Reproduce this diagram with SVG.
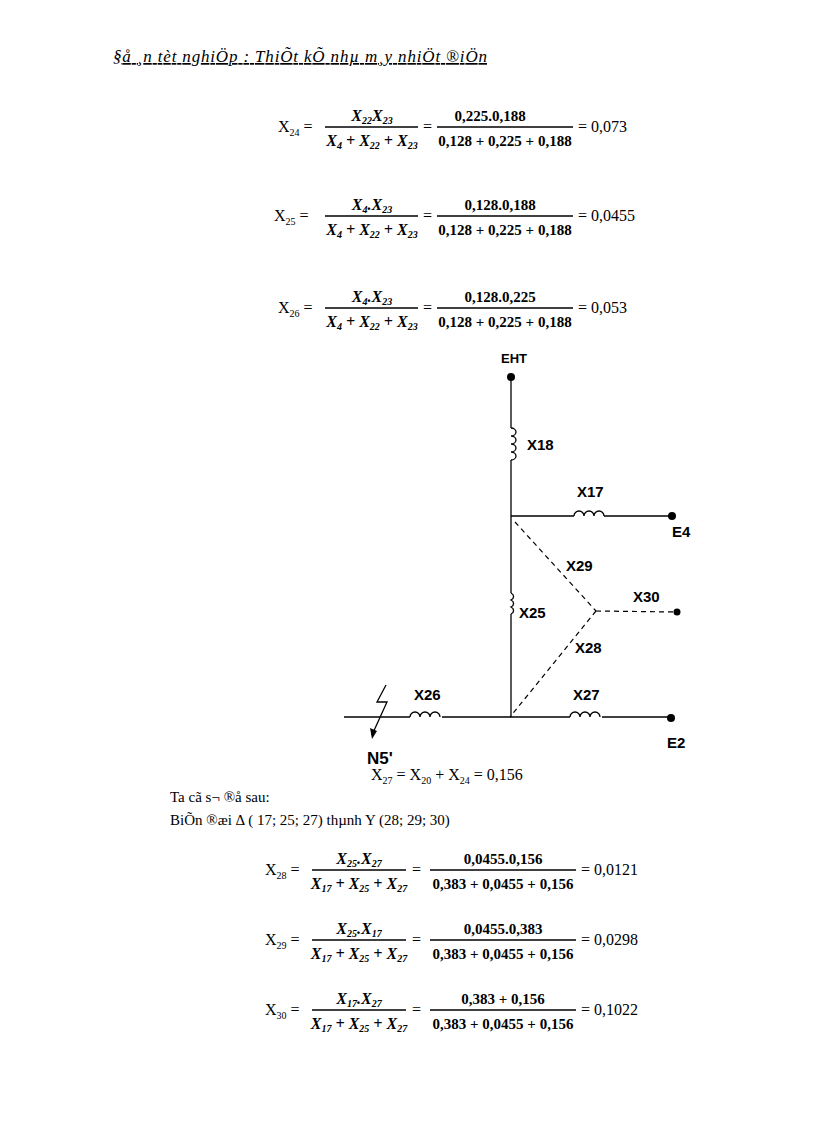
<svg xmlns="http://www.w3.org/2000/svg" width="816" height="1123" viewBox="0 0 816 1123">
<style>
.t{font-family:"Liberation Serif",serif;font-size:16px;fill:#000}
.b{font-family:"Liberation Serif",serif;font-size:16px;font-weight:bold;font-style:italic;fill:#000}
.n{font-family:"Liberation Serif",serif;font-size:15px;font-weight:bold;fill:#000}
.l{font-family:"Liberation Sans",sans-serif;font-size:15px;font-weight:bold;fill:#000}
.s{font-size:10px}
.w{stroke:#000;stroke-width:1.3;fill:none}
.d{stroke:#000;stroke-width:1.2;fill:none;stroke-dasharray:5,4}
</style>
<rect width="816" height="1123" fill="#fff"/>
<text x="113" y="62" class="t" style="font-style:italic;text-decoration:underline;font-size:17px" textLength="374">§å ¸n tèt nghiÖp : ThiÕt kÕ  nhµ m¸y nhiÖt ®iÖn</text>

<g id="f24">
<text x="278" y="132" class="t">X<tspan class="s" dy="4">24</tspan><tspan dy="-4"> =</tspan></text>
<text x="372" y="121" class="b" text-anchor="middle">X<tspan class="s" dy="3">22</tspan><tspan dy="-3">X</tspan><tspan class="s" dy="3">23</tspan></text>
<line x1="325" y1="127" x2="418" y2="127" class="w"/>
<text x="372" y="146" class="b" text-anchor="middle">X<tspan class="s" dy="3">4</tspan><tspan dy="-3"> + X</tspan><tspan class="s" dy="3">22</tspan><tspan dy="-3"> + X</tspan><tspan class="s" dy="3">23</tspan></text>
<text x="423" y="132" class="t">=</text>
<text x="490" y="121" class="n" text-anchor="middle">0,225.0,188</text>
<line x1="437" y1="127" x2="573" y2="127" class="w"/>
<text x="505" y="146" class="n" text-anchor="middle">0,128 + 0,225 + 0,188</text>
<text x="578" y="132" class="t">= 0,073</text>
</g>

<g id="f25">
<text x="274" y="221" class="t">X<tspan class="s" dy="4">25</tspan><tspan dy="-4"> =</tspan></text>
<text x="372" y="210" class="b" text-anchor="middle">X<tspan class="s" dy="3">4</tspan><tspan dy="-3">.X</tspan><tspan class="s" dy="3">23</tspan></text>
<line x1="325" y1="216" x2="418" y2="216" class="w"/>
<text x="372" y="235" class="b" text-anchor="middle">X<tspan class="s" dy="3">4</tspan><tspan dy="-3"> + X</tspan><tspan class="s" dy="3">22</tspan><tspan dy="-3"> + X</tspan><tspan class="s" dy="3">23</tspan></text>
<text x="423" y="221" class="t">=</text>
<text x="500" y="210" class="n" text-anchor="middle">0,128.0,188</text>
<line x1="437" y1="216" x2="573" y2="216" class="w"/>
<text x="505" y="235" class="n" text-anchor="middle">0,128 + 0,225 + 0,188</text>
<text x="578" y="221" class="t">= 0,0455</text>
</g>

<g id="f26">
<text x="278" y="313" class="t">X<tspan class="s" dy="4">26</tspan><tspan dy="-4"> =</tspan></text>
<text x="372" y="302" class="b" text-anchor="middle">X<tspan class="s" dy="3">4</tspan><tspan dy="-3">.X</tspan><tspan class="s" dy="3">23</tspan></text>
<line x1="325" y1="308" x2="418" y2="308" class="w"/>
<text x="372" y="327" class="b" text-anchor="middle">X<tspan class="s" dy="3">4</tspan><tspan dy="-3"> + X</tspan><tspan class="s" dy="3">22</tspan><tspan dy="-3"> + X</tspan><tspan class="s" dy="3">23</tspan></text>
<text x="423" y="313" class="t">=</text>
<text x="500" y="302" class="n" text-anchor="middle">0,128.0,225</text>
<line x1="437" y1="308" x2="573" y2="308" class="w"/>
<text x="505" y="327" class="n" text-anchor="middle">0,128 + 0,225 + 0,188</text>
<text x="578" y="313" class="t">= 0,053</text>
</g>

<g id="connectors">
<line x1="511" y1="377" x2="511" y2="428" class="w"/>
<path d="M511 428 a5 4 0 0 1 0 8 a5 4 0 0 1 0 8 a5 4 0 0 1 0 8 a5 4 0 0 1 0 8" class="w"/>
<line x1="511" y1="460" x2="511" y2="593" class="w"/>
<path d="M511 593 a5 4 0 0 1 0 7 a5 4 0 0 1 0 7 a5 4 0 0 1 0 7" class="w"/>
<line x1="511" y1="614" x2="511" y2="717" class="w"/>
<line x1="511" y1="516" x2="574" y2="516" class="w"/>
<path d="M574 516 a5 5 0 0 1 10 0 a5 5 0 0 1 10 0 a5 5 0 0 1 10 0" class="w"/>
<line x1="604" y1="516" x2="672" y2="516" class="w"/>
<line x1="344" y1="717" x2="410" y2="717" class="w"/>
<path d="M410 717 a5 5 0 0 1 10 0 a5 5 0 0 1 10 0 a5 5 0 0 1 10 0" class="w"/>
<line x1="442" y1="717" x2="570" y2="717" class="w"/>
<path d="M570 717 a5 5 0 0 1 10 0 a5 5 0 0 1 10 0 a5 5 0 0 1 10 0" class="w"/>
<line x1="602" y1="717" x2="671" y2="717" class="w"/>
<line x1="515" y1="522" x2="596" y2="611" class="d"/>
<line x1="596" y1="611" x2="677" y2="612" class="d"/>
<line x1="596" y1="611" x2="510" y2="717" class="d"/>
<polyline points="386,685 377,702 387,702 372,735" class="w"/>
<path d="M372 739 l-2 -11 l7 3 z" fill="#000"/>
</g>

<g id="EHT"><circle cx="511" cy="377" r="4"/><text x="501" y="363" class="l" style="font-size:13px">EHT</text></g>
<g id="E4"><circle cx="672" cy="516" r="4"/><text x="672" y="537" class="l">E4</text></g>
<g id="E2"><circle cx="671" cy="718" r="4"/><text x="667" y="748" class="l">E2</text></g>
<g id="X30n"><circle cx="677" cy="612" r="3.5"/></g>
<g id="labels">
<text x="527" y="450" class="l">X18</text>
<text x="577" y="497" class="l">X17</text>
<text x="566" y="571" class="l">X29</text>
<text x="633" y="602" class="l">X30</text>
<text x="519" y="618" class="l">X25</text>
<text x="575" y="653" class="l">X28</text>
<text x="414" y="700" class="l">X26</text>
<text x="573" y="700" class="l">X27</text>
<text x="367" y="764" class="l" style="font-size:17px">N5'</text>
</g>

<text x="371" y="780" class="t">X<tspan class="s" dy="4">27</tspan><tspan dy="-4"> = X</tspan><tspan class="s" dy="4">20</tspan><tspan dy="-4"> + X</tspan><tspan class="s" dy="4">24</tspan><tspan dy="-4"> = 0,156</tspan></text>
<text x="170" y="802" class="t" style="font-size:15px">Ta cã s¬ ®å sau:</text>
<text x="170" y="825" class="t" style="font-size:15px">BiÕn ®æi Δ ( 17; 25; 27) thµnh  Y (28; 29; 30)</text>

<g id="f28">
<text x="265" y="875" class="t">X<tspan class="s" dy="4">28</tspan><tspan dy="-4"> =</tspan></text>
<text x="359" y="864" class="b" text-anchor="middle">X<tspan class="s" dy="3">25</tspan><tspan dy="-3">.X</tspan><tspan class="s" dy="3">27</tspan></text>
<line x1="312" y1="870" x2="406" y2="870" class="w"/>
<text x="359" y="889" class="b" text-anchor="middle">X<tspan class="s" dy="3">17</tspan><tspan dy="-3"> + X</tspan><tspan class="s" dy="3">25</tspan><tspan dy="-3"> + X</tspan><tspan class="s" dy="3">27</tspan></text>
<text x="412" y="875" class="t">=</text>
<text x="503" y="864" class="n" text-anchor="middle">0,0455.0,156</text>
<line x1="430" y1="870" x2="576" y2="870" class="w"/>
<text x="503" y="889" class="n" text-anchor="middle">0,383 + 0,0455 + 0,156</text>
<text x="581" y="875" class="t">= 0,0121</text>
</g>

<g id="f29">
<text x="265" y="945" class="t">X<tspan class="s" dy="4">29</tspan><tspan dy="-4"> =</tspan></text>
<text x="359" y="934" class="b" text-anchor="middle">X<tspan class="s" dy="3">25</tspan><tspan dy="-3">.X</tspan><tspan class="s" dy="3">17</tspan></text>
<line x1="312" y1="940" x2="406" y2="940" class="w"/>
<text x="359" y="959" class="b" text-anchor="middle">X<tspan class="s" dy="3">17</tspan><tspan dy="-3"> + X</tspan><tspan class="s" dy="3">25</tspan><tspan dy="-3"> + X</tspan><tspan class="s" dy="3">27</tspan></text>
<text x="412" y="945" class="t">=</text>
<text x="503" y="934" class="n" text-anchor="middle">0,0455.0,383</text>
<line x1="430" y1="940" x2="576" y2="940" class="w"/>
<text x="503" y="959" class="n" text-anchor="middle">0,383 + 0,0455 + 0,156</text>
<text x="581" y="945" class="t">= 0,0298</text>
</g>

<g id="f30">
<text x="265" y="1015" class="t">X<tspan class="s" dy="4">30</tspan><tspan dy="-4"> =</tspan></text>
<text x="359" y="1004" class="b" text-anchor="middle">X<tspan class="s" dy="3">17</tspan><tspan dy="-3">.X</tspan><tspan class="s" dy="3">27</tspan></text>
<line x1="312" y1="1010" x2="406" y2="1010" class="w"/>
<text x="359" y="1029" class="b" text-anchor="middle">X<tspan class="s" dy="3">17</tspan><tspan dy="-3"> + X</tspan><tspan class="s" dy="3">25</tspan><tspan dy="-3"> + X</tspan><tspan class="s" dy="3">27</tspan></text>
<text x="412" y="1015" class="t">=</text>
<text x="503" y="1004" class="n" text-anchor="middle">0,383 + 0,156</text>
<line x1="430" y1="1010" x2="576" y2="1010" class="w"/>
<text x="503" y="1029" class="n" text-anchor="middle">0,383 + 0,0455 + 0,156</text>
<text x="581" y="1015" class="t">= 0,1022</text>
</g>
</svg>
